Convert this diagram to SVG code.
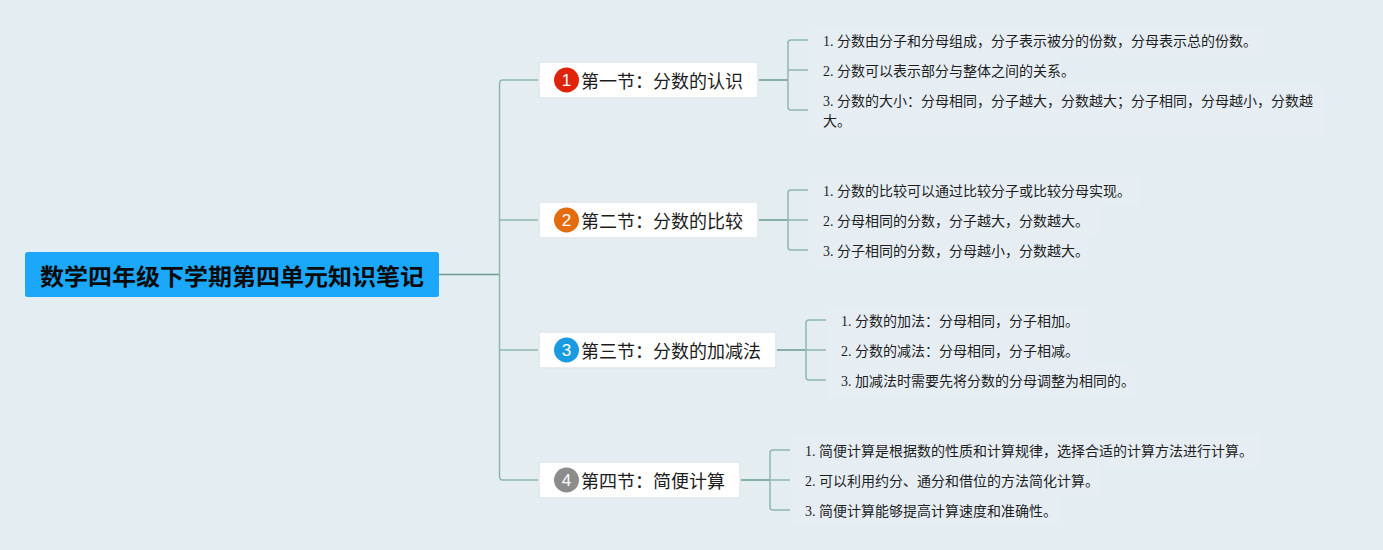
<svg xmlns="http://www.w3.org/2000/svg" width="1383" height="550" viewBox="0 0 1383 550">
<style>
.conn{fill:none;stroke:#8fb8ac;stroke-width:1.5}
.dark{fill:none;stroke:#659c8c;stroke-width:1.5}
.box{fill:#fff;stroke:#e2e6ea;stroke-width:1.5}
.sec{font:18px "Noto Sans CJK SC",sans-serif;fill:#1c1c1c}
.item{font:14px "Liberation Serif","Noto Sans CJK SC",serif;fill:#1e1e1e}
.num{font:17px "Liberation Sans",sans-serif;fill:#fff;text-anchor:middle}
.title{font:bold 23px "Noto Sans CJK SC",sans-serif;fill:#0a0a0a}
.hl{fill:#e6eef4}
</style>
<rect width="1383" height="550" fill="#e4edf2"/>
<g id="connectors">
<path class="dark" d="M439 274.500H499"/>
<path class="conn" d="M538 80H503Q499.500 80 499.500 84V476Q499.500 480 503 480H538M499.500 220H538M499.500 350H538"/>
<path class="dark" d="M759 80H788M759 220H788M777 350H806M741 480H770"/>
<path class="conn" d="M808 40H791Q788 40 788 43V107Q788 110 791 110H808M788 70H808"/>
<path class="conn" d="M808 190H791Q788 190 788 193V247Q788 250 791 250H808M788 220H808"/>
<path class="conn" d="M826 320H809Q806 320 806 323V377Q806 380 809 380H826M806 350H826"/>
<path class="conn" d="M790 450H773Q770 450 770 453V507Q770 510 773 510H790M770 480H790"/>
</g>
<g id="root">
<rect x="25" y="252" width="414" height="45" rx="2.500" fill="#1ba8fb"/>
<text class="title" x="40" y="285" textLength="384" lengthAdjust="spacingAndGlyphs">数学四年级下学期第四单元知识笔记</text>
</g>
<g id="section1">
<rect class="box" x="539" y="62" width="219" height="36" rx="2"/>
<circle cx="566.500" cy="80" r="12.500" fill="#e0240b"/>
<text class="num" x="566.500" y="86">1</text>
<text class="sec" x="581" y="88" textLength="162">第一节：分数的认识</text>
</g>
<g id="section2">
<rect class="box" x="539" y="202" width="219" height="36" rx="2"/>
<circle cx="566.500" cy="220" r="12.500" fill="#e46c0c"/>
<text class="num" x="566.500" y="226">2</text>
<text class="sec" x="581" y="228" textLength="162">第二节：分数的比较</text>
</g>
<g id="section3">
<rect class="box" x="539" y="332" width="237" height="36" rx="2"/>
<circle cx="566.500" cy="350" r="12.500" fill="#1a9ae0"/>
<text class="num" x="566.500" y="356">3</text>
<text class="sec" x="581" y="358" textLength="180">第三节：分数的加减法</text>
</g>
<g id="section4">
<rect class="box" x="539" y="462" width="201" height="36" rx="2"/>
<circle cx="566.500" cy="480" r="12.500" fill="#8c8c8c"/>
<text class="num" x="566.500" y="486">4</text>
<text class="sec" x="581" y="488" textLength="144">第四节：简便计算</text>
</g>
<g id="items1">
<rect class="hl" x="809" y="26" width="456" height="30"/>
<rect class="hl" x="809" y="56" width="252" height="30"/>
<rect class="hl" x="809" y="86" width="516" height="50"/>
<text class="item" x="823" y="46">1. 分数由分子和分母组成，分子表示被分的份数，分母表示总的份数。</text>
<text class="item" x="823" y="76">2. 分数可以表示部分与整体之间的关系。</text>
<text class="item" x="823" y="106">3. 分数的大小：分母相同，分子越大，分数越大；分子相同，分母越小，分数越</text>
<text class="item" x="823" y="126">大。</text>
</g>
<g id="items2">
<rect class="hl" x="809" y="176" width="330" height="30"/>
<rect class="hl" x="809" y="206" width="290" height="30"/>
<rect class="hl" x="809" y="236" width="280" height="30"/>
<text class="item" x="823" y="196">1. 分数的比较可以通过比较分子或比较分母实现。</text>
<text class="item" x="823" y="226">2. 分母相同的分数，分子越大，分数越大。</text>
<text class="item" x="823" y="256">3. 分子相同的分数，分母越小，分数越大。</text>
</g>
<g id="items3">
<rect class="hl" x="827" y="306" width="262" height="30"/>
<rect class="hl" x="827" y="336" width="262" height="30"/>
<rect class="hl" x="827" y="366" width="308" height="30"/>
<text class="item" x="841" y="326">1. 分数的加法：分母相同，分子相加。</text>
<text class="item" x="841" y="356">2. 分数的减法：分母相同，分子相减。</text>
<text class="item" x="841" y="386">3. 加减法时需要先将分数的分母调整为相同的。</text>
</g>
<g id="items4">
<rect class="hl" x="791" y="436" width="470" height="30"/>
<rect class="hl" x="791" y="466" width="310" height="30"/>
<rect class="hl" x="791" y="496" width="270" height="30"/>
<text class="item" x="805" y="456">1. 简便计算是根据数的性质和计算规律，选择合适的计算方法进行计算。</text>
<text class="item" x="805" y="486">2. 可以利用约分、通分和借位的方法简化计算。</text>
<text class="item" x="805" y="516">3. 简便计算能够提高计算速度和准确性。</text>
</g>
</svg>
